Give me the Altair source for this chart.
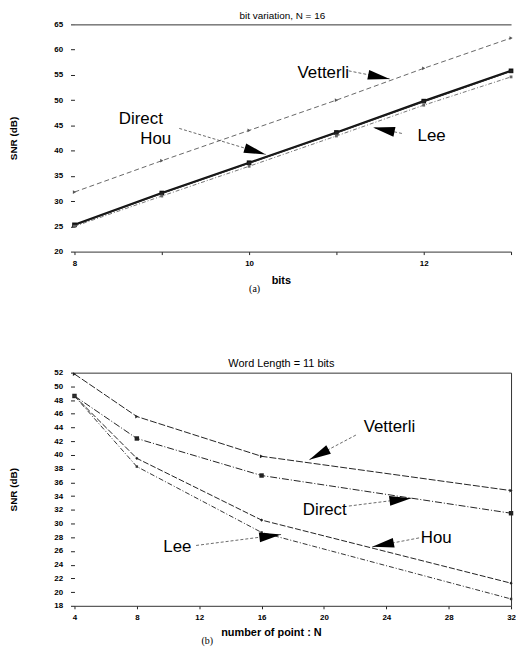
import math
import altair as alt
import pandas as pd

# ---------------- data ----------------
bits = [8, 9, 10, 11, 12, 13]
a_vetterli = [31.8, 38.0, 44.0, 50.0, 56.3, 62.3]
a_direct = [25.3, 31.6, 37.6, 43.6, 49.8, 55.8]
a_hou = [25.2, 31.5, 37.5, 43.5, 49.7, 55.7]
a_lee = [25.0, 31.0, 36.9, 42.9, 49.0, 54.6]

points_n = [4, 8, 16, 32]
b_vetterli = [51.8, 45.6, 39.8, 34.8]
b_direct = [48.6, 42.4, 37.0, 31.5]
b_hou = [48.6, 39.5, 30.5, 21.3]
b_lee = [48.6, 38.3, 28.7, 19.0]

a_xticks = [8, 9, 10, 11, 12, 13]
a_yticks = [20, 25, 30, 35, 40, 45, 50, 55, 60, 65]
b_xticks = [4, 8, 12, 16, 20, 24, 28, 32]
b_yticks = list(range(18, 53, 2))

# annotation labels and arrows (data units)
a_label_text = ["Vetterli", "Direct", "Hou", "Lee"]
a_label_x = [10.85, 8.76, 8.93, 12.09]
a_label_y = [55.4, 46.3, 42.3, 42.8]
a_arrow_x1 = [11.14, 9.20, 11.75]
a_arrow_y1 = [55.8, 44.4, 43.4]
a_arrow_x2 = [11.61, 10.19, 11.42]
a_arrow_y2 = [54.2, 39.25, 44.6]

b_label_text = ["Vetterli", "Direct", "Hou", "Lee"]
b_label_x = [24.2, 20.05, 27.2, 10.6]
b_label_y = [44.1, 32.0, 27.9, 26.5]
b_arrow_x1 = [22.05, 21.6, 26.1, 11.8]
b_arrow_y1 = [42.9, 32.55, 27.9, 26.8]
b_arrow_x2 = [19.06, 25.6, 23.1, 17.25]
b_arrow_y2 = [39.3, 33.7, 26.6, 28.4]

FONT = "Liberation Sans"
HEAD = "M0,0L-2,-0.45L-2,0.45Z"


def make_panel(xv, series, styles, xdom, ydom, w, h, xticks, xlabel_expr, yticks,
               top_title, top_size, top_x, xtitle, xtitle_x, xtitle_pad, caption, caption_dx,
               caption_off, lab_t, lab_x, lab_y, ax1, ay1, ax2, ay2, right_axis):
    xs = alt.Scale(domain=xdom, nice=False, zero=False)
    ys = alt.Scale(domain=ydom, nice=False, zero=False)
    bottom = alt.Axis(orient="bottom", values=xticks, labelExpr=xlabel_expr, title=xtitle,
                      titleFont=FONT, titleFontSize=11, titleFontWeight="bold", titleColor="black",
                      titleX=xtitle_x, titlePadding=xtitle_pad,
                      labelFont=FONT, labelFontSize=8, labelFontWeight="bold", labelColor="black",
                      labelFlush=False, labelPadding=5, tickSize=3, tickColor="#222",
                      domainColor="#333", grid=False)
    top = alt.Axis(orient="top", title=top_title, labels=False, ticks=False, grid=False,
                   domainColor="#333", titleFont=FONT, titleFontSize=top_size,
                   titleFontWeight="normal", titleColor="black", titlePadding=4,
                   titleX=top_x)
    left = alt.Axis(orient="left", values=yticks, title="SNR (dB)", titleFont=FONT,
                    titleFontSize=10, titleFontWeight="bold", titleColor="black", titlePadding=36,
                    labelFont=FONT, labelFontSize=8, labelFontWeight="bold", labelColor="black",
                    labelPadding=8, tickSize=4, tickColor="#222", domain=False, grid=False)
    right = alt.Axis(orient="right", labels=False, ticks=False, title="", grid=False,
                     domainColor="#333")

    layers = []
    for i, (name, vals) in enumerate(series):
        df = pd.DataFrame({"x": xv, "y": vals})
        st = styles[name]
        kw = dict(color=st["color"], strokeWidth=st["width"])
        if st.get("dash"):
            kw["strokeDash"] = st["dash"]
        xa = bottom if i == 0 else (top if i == 1 else None)
        ya = left if i == 0 else (right if (i == 1 and right_axis) else None)
        layers.append(alt.Chart(df).mark_line(**kw).encode(
            x=alt.X("x:Q", scale=xs, axis=xa),
            y=alt.Y("y:Q", scale=ys, axis=ya)))
        layers.append(alt.Chart(df).mark_point(shape=st["shape"], size=st["msize"], filled=True,
                                               color=st["color"], opacity=1).encode(
            x=alt.X("x:Q", scale=xs, axis=None),
            y=alt.Y("y:Q", scale=ys, axis=None)))

    px_x = w / (xdom[1] - xdom[0])
    px_y = h / (ydom[1] - ydom[0])
    ang = [math.degrees(math.atan2(-(b2 - b1) * px_y, (a2 - a1) * px_x)) % 360
           for a1, b1, a2, b2 in zip(ax1, ay1, ax2, ay2)]
    arr = pd.DataFrame({"x": ax1, "y": ay1, "x2": ax2, "y2": ay2, "ang": ang})
    lab = pd.DataFrame({"t": lab_t, "x": lab_x, "y": lab_y})

    layers.append(alt.Chart(arr).mark_rule(color="#444", strokeWidth=0.8, strokeDash=[3, 2]).encode(
        x=alt.X("x:Q", scale=xs, axis=None), y=alt.Y("y:Q", scale=ys, axis=None),
        x2="x2:Q", y2="y2:Q"))
    layers.append(alt.Chart(arr).mark_point(shape=HEAD, size=484, filled=True, color="black",
                                            opacity=1, strokeWidth=0).encode(
        x=alt.X("x2:Q", scale=xs, axis=None), y=alt.Y("y2:Q", scale=ys, axis=None),
        angle=alt.Angle("ang:Q", scale=None)))
    layers.append(alt.Chart(lab).mark_text(font=FONT, fontSize=17, color="black",
                                           align="center", baseline="middle").encode(
        x=alt.X("x:Q", scale=xs, axis=None), y=alt.Y("y:Q", scale=ys, axis=None),
        text="t:N"))

    return alt.layer(*layers).resolve_axis(x="independent", y="independent").properties(
        width=w, height=h,
        title=alt.TitleParams(caption, orient="bottom", anchor="start", frame="group",
                              dx=caption_dx, offset=caption_off, font="Liberation Serif",
                              fontSize=10, fontWeight="normal", color="black"))


styles_a = {
    "Direct": dict(color="#111", width=2.2, shape="square", msize=22),
    "Vetterli": dict(color="#555", width=0.9, dash=[5, 3], shape="triangle-right", msize=14),
    "Hou": dict(color="#222", width=1.0, shape="square", msize=8),
    "Lee": dict(color="#666", width=0.9, dash=[4, 2, 1, 2], shape="square", msize=8),
}
styles_b = {
    "Direct": dict(color="#222", width=1.0, dash=[7, 2, 1, 2], shape="square", msize=20),
    "Vetterli": dict(color="#222", width=1.0, dash=[7, 2], shape="triangle-right", msize=14),
    "Hou": dict(color="#222", width=1.0, dash=[6, 2], shape="diamond", msize=10),
    "Lee": dict(color="#333", width=1.0, dash=[5, 2, 1, 2], shape="square", msize=6),
}

panel_a = make_panel(
    bits, [("Direct", a_direct), ("Vetterli", a_vetterli), ("Hou", a_hou), ("Lee", a_lee)],
    styles_a, [8, 13], [20, 65], 440, 229, a_xticks,
    "datum.value % 2 == 0 ? datum.label : ''", a_yticks,
    "bit variation, N = 16", 10, 209, "bits", 208, 7, "(a)", 176, -1,
    a_label_text, a_label_x, a_label_y, a_arrow_x1, a_arrow_y1, a_arrow_x2, a_arrow_y2, False)

panel_b = make_panel(
    points_n, [("Direct", b_direct), ("Vetterli", b_vetterli), ("Hou", b_hou), ("Lee", b_lee)],
    styles_b, [4, 32], [18, 52], 440, 235, b_xticks,
    "datum.label", b_yticks,
    "Word Length = 11 bits", 11, 208, "number of point : N", 198, 5, "(b)", 128, -2,
    b_label_text, b_label_x, b_label_y, b_arrow_x1, b_arrow_y1, b_arrow_x2, b_arrow_y2, True)

chart = alt.vconcat(panel_a, panel_b, spacing=64).properties(padding=0).configure_view(
    strokeWidth=0)

chart.save("out.html", embed_options={"renderer": "svg", "actions": False})
